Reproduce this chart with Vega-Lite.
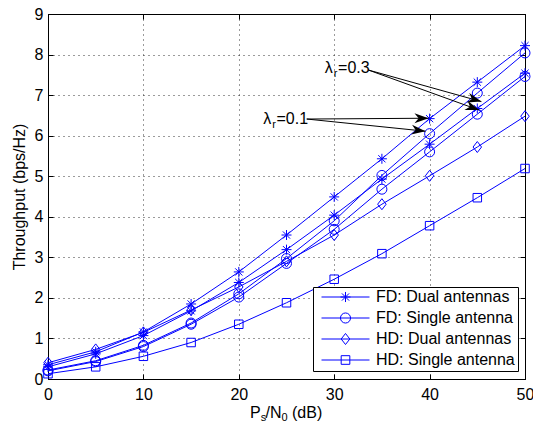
{
  "$schema": "https://vega.github.io/schema/vega-lite/v6.json",
  "width": 477,
  "height": 365,
  "autosize": {"type": "none"},
  "padding": {"left": 48, "top": 14, "right": 8, "bottom": 47},
  "background": "white",
  "config": {
    "font": "Liberation Sans",
    "view": {"stroke": "black", "strokeWidth": 1},
    "axis": {
      "labelFont": "Liberation Sans",
      "labelFontSize": 16,
      "labelColor": "black",
      "labelFlush": false,
      "labelOverlap": false,
      "titleFont": "Liberation Sans",
      "titleFontSize": 16,
      "titleFontWeight": "normal",
      "titleColor": "black",
      "domainColor": "black",
      "tickColor": "black",
      "gridColor": "#222222",
      "gridDash": [1, 4],
      "gridOpacity": 0.9,
      "tickSize": -5
    }
  },
  "datasets": {
    "series": [
      {"x": 0, "y": 0.35, "series": "FDd1", "type": "FD: Dual antennas"},
      {"x": 5, "y": 0.67, "series": "FDd1", "type": "FD: Dual antennas"},
      {"x": 10, "y": 1.16, "series": "FDd1", "type": "FD: Dual antennas"},
      {"x": 15, "y": 1.85, "series": "FDd1", "type": "FD: Dual antennas"},
      {"x": 20, "y": 2.64, "series": "FDd1", "type": "FD: Dual antennas"},
      {"x": 25, "y": 3.55, "series": "FDd1", "type": "FD: Dual antennas"},
      {"x": 30, "y": 4.49, "series": "FDd1", "type": "FD: Dual antennas"},
      {"x": 35, "y": 5.43, "series": "FDd1", "type": "FD: Dual antennas"},
      {"x": 40, "y": 6.42, "series": "FDd1", "type": "FD: Dual antennas"},
      {"x": 45, "y": 7.32, "series": "FDd1", "type": "FD: Dual antennas"},
      {"x": 50, "y": 8.22, "series": "FDd1", "type": "FD: Dual antennas"},
      {"x": 0, "y": 0.22, "series": "FDs1", "type": "FD: Single antenna"},
      {"x": 5, "y": 0.45, "series": "FDs1", "type": "FD: Single antenna"},
      {"x": 10, "y": 0.83, "series": "FDs1", "type": "FD: Single antenna"},
      {"x": 15, "y": 1.38, "series": "FDs1", "type": "FD: Single antenna"},
      {"x": 20, "y": 2.1, "series": "FDs1", "type": "FD: Single antenna"},
      {"x": 25, "y": 2.97, "series": "FDs1", "type": "FD: Single antenna"},
      {"x": 30, "y": 3.9, "series": "FDs1", "type": "FD: Single antenna"},
      {"x": 35, "y": 5.02, "series": "FDs1", "type": "FD: Single antenna"},
      {"x": 40, "y": 6.05, "series": "FDs1", "type": "FD: Single antenna"},
      {"x": 45, "y": 7.05, "series": "FDs1", "type": "FD: Single antenna"},
      {"x": 50, "y": 8.04, "series": "FDs1", "type": "FD: Single antenna"},
      {"x": 0, "y": 0.3, "series": "FDd3", "type": "FD: Dual antennas"},
      {"x": 5, "y": 0.62, "series": "FDd3", "type": "FD: Dual antennas"},
      {"x": 10, "y": 1.07, "series": "FDd3", "type": "FD: Dual antennas"},
      {"x": 15, "y": 1.68, "series": "FDd3", "type": "FD: Dual antennas"},
      {"x": 20, "y": 2.38, "series": "FDd3", "type": "FD: Dual antennas"},
      {"x": 25, "y": 3.19, "series": "FDd3", "type": "FD: Dual antennas"},
      {"x": 30, "y": 4.04, "series": "FDd3", "type": "FD: Dual antennas"},
      {"x": 35, "y": 4.93, "series": "FDd3", "type": "FD: Dual antennas"},
      {"x": 40, "y": 5.79, "series": "FDd3", "type": "FD: Dual antennas"},
      {"x": 45, "y": 6.67, "series": "FDd3", "type": "FD: Dual antennas"},
      {"x": 50, "y": 7.54, "series": "FDd3", "type": "FD: Dual antennas"},
      {"x": 0, "y": 0.2, "series": "FDs3", "type": "FD: Single antenna"},
      {"x": 5, "y": 0.43, "series": "FDs3", "type": "FD: Single antenna"},
      {"x": 10, "y": 0.8, "series": "FDs3", "type": "FD: Single antenna"},
      {"x": 15, "y": 1.35, "series": "FDs3", "type": "FD: Single antenna"},
      {"x": 20, "y": 2.02, "series": "FDs3", "type": "FD: Single antenna"},
      {"x": 25, "y": 2.85, "series": "FDs3", "type": "FD: Single antenna"},
      {"x": 30, "y": 3.69, "series": "FDs3", "type": "FD: Single antenna"},
      {"x": 35, "y": 4.68, "series": "FDs3", "type": "FD: Single antenna"},
      {"x": 40, "y": 5.6, "series": "FDs3", "type": "FD: Single antenna"},
      {"x": 45, "y": 6.53, "series": "FDs3", "type": "FD: Single antenna"},
      {"x": 50, "y": 7.46, "series": "FDs3", "type": "FD: Single antenna"},
      {"x": 0, "y": 0.4, "series": "HDd", "type": "HD: Dual antennas"},
      {"x": 5, "y": 0.73, "series": "HDd", "type": "HD: Dual antennas"},
      {"x": 10, "y": 1.15, "series": "HDd", "type": "HD: Dual antennas"},
      {"x": 15, "y": 1.7, "series": "HDd", "type": "HD: Dual antennas"},
      {"x": 20, "y": 2.27, "series": "HDd", "type": "HD: Dual antennas"},
      {"x": 25, "y": 2.9, "series": "HDd", "type": "HD: Dual antennas"},
      {"x": 30, "y": 3.55, "series": "HDd", "type": "HD: Dual antennas"},
      {"x": 35, "y": 4.31, "series": "HDd", "type": "HD: Dual antennas"},
      {"x": 40, "y": 5.01, "series": "HDd", "type": "HD: Dual antennas"},
      {"x": 45, "y": 5.72, "series": "HDd", "type": "HD: Dual antennas"},
      {"x": 50, "y": 6.48, "series": "HDd", "type": "HD: Dual antennas"},
      {"x": 0, "y": 0.13, "series": "HDs", "type": "HD: Single antenna"},
      {"x": 5, "y": 0.3, "series": "HDs", "type": "HD: Single antenna"},
      {"x": 10, "y": 0.56, "series": "HDs", "type": "HD: Single antenna"},
      {"x": 15, "y": 0.9, "series": "HDs", "type": "HD: Single antenna"},
      {"x": 20, "y": 1.35, "series": "HDs", "type": "HD: Single antenna"},
      {"x": 25, "y": 1.88, "series": "HDs", "type": "HD: Single antenna"},
      {"x": 30, "y": 2.46, "series": "HDs", "type": "HD: Single antenna"},
      {"x": 35, "y": 3.09, "series": "HDs", "type": "HD: Single antenna"},
      {"x": 40, "y": 3.78, "series": "HDs", "type": "HD: Single antenna"},
      {"x": 45, "y": 4.47, "series": "HDs", "type": "HD: Single antenna"},
      {"x": 50, "y": 5.19, "series": "HDs", "type": "HD: Single antenna"}
    ],
    "ann": [
      {"x": 22.55, "y": 6.42, "rest": "=0.1"},
      {"x": 29.0, "y": 7.66, "rest": "=0.3"}
    ],
    "arrows": [
      {"id": "a1", "x": 27.12, "y": 6.41, "x2": 39.88, "y2": 6.43},
      {"id": "a2", "x": 27.12, "y": 6.41, "x2": 39.57, "y2": 6.11},
      {"id": "a3", "x": 33.56, "y": 7.62, "x2": 45.43, "y2": 6.84},
      {"id": "a4", "x": 33.56, "y": 7.62, "x2": 45.2, "y2": 6.63}
    ]
  },
  "resolve": {"axis": {"x": "independent", "y": "independent"}, "scale": {"shape": "independent"}},
  "layer": [
    {
      "data": {"name": "series"},
      "mark": {"type": "line", "color": "#0000ff", "strokeWidth": 1},
      "encoding": {
        "x": {"field": "x", "type": "quantitative", "scale": {"domain": [0, 50], "nice": false},
          "axis": {"values": [0, 10, 20, 30, 40, 50], "title": null, "grid": true, "format": "d", "labelPadding": 12}},
        "y": {"field": "y", "type": "quantitative", "scale": {"domain": [0, 9], "nice": false},
          "axis": {"values": [0, 1, 2, 3, 4, 5, 6, 7, 8, 9], "title": "Throughput (bps/Hz)", "grid": true, "format": "d", "labelPadding": 10,
            "titleX": -29, "titleY": 182.5, "titleAngle": 270, "titleAlign": "center", "titleBaseline": "middle"}},
        "detail": {"field": "series"}
      }
    },
    {
      "data": {"name": "series"},
      "mark": {"type": "point", "opacity": 0},
      "encoding": {
        "x": {"field": "x", "type": "quantitative",
          "axis": {"orient": "top", "values": [0, 10, 20, 30, 40, 50], "labels": false, "title": null, "grid": false}},
        "y": {"field": "y", "type": "quantitative",
          "axis": {"orient": "right", "values": [0, 1, 2, 3, 4, 5, 6, 7, 8, 9], "labels": false, "title": null, "grid": false}}
      }
    },
    {
      "data": {"name": "series"},
      "mark": {"type": "point", "filled": false, "color": "#0000ff", "strokeWidth": 1, "size": 100, "opacity": 1},
      "encoding": {
        "x": {"field": "x", "type": "quantitative", "axis": null},
        "y": {"field": "y", "type": "quantitative", "axis": null},
        "shape": {
          "field": "type",
          "type": "nominal",
          "scale": {
            "domain": ["FD: Dual antennas", "FD: Single antenna", "HD: Dual antennas", "HD: Single antenna"],
            "range": [
              "M0,-1V1M-1,0H1M-0.72,-0.72L0.72,0.72M-0.72,0.72L0.72,-0.72",
              "M-1,0A1,1 0 1,0 1,0A1,1 0 1,0 -1,0",
              "M0,-1.1L0.85,0L0,1.1L-0.85,0Z",
              "M-0.85,-0.85H0.85V0.85H-0.85Z"
            ]
          },
          "legend": null
        }
      }
    },
    {
      "data": {"name": "series"},
      "mark": {"type": "point", "filled": false, "color": "#0000ff", "strokeWidth": 1, "size": 100, "opacity": 0},
      "encoding": {
        "x": {"field": "x", "type": "quantitative", "axis": null},
        "y": {"field": "y", "type": "quantitative", "axis": null},
        "shape": {
          "field": "type",
          "type": "nominal",
          "scale": {
            "domain": ["FD: Dual antennas", "FD: Single antenna", "HD: Dual antennas", "HD: Single antenna"],
            "range": [
              "M-1,0H1M0,-0.21V0.21M-0.21,0H0.21M-0.15,-0.15L0.15,0.15M-0.15,0.15L0.15,-0.15",
              "M-1,0H1M-0.21,0A0.21,0.21 0 1,0 0.21,0A0.21,0.21 0 1,0 -0.21,0",
              "M-1,0H1M0,-0.23L0.18,0L0,0.23L-0.18,0Z",
              "M-1,0H1M-0.18,-0.18H0.18V0.18H-0.18Z"
            ]
          },
          "legend": {
            "title": null,
            "orient": "none",
            "legendX": 265,
            "legendY": 273,
            "padding": 3,
            "symbolOffset": 5,
            "strokeColor": "black",
            "fillColor": "white",
            "labelFont": "Liberation Sans",
            "labelFontSize": 16,
            "labelColor": "black",
            "labelOffset": 6,
            "rowPadding": 5,
            "clipHeight": 14,
            "symbolSize": 2304,
            "symbolStrokeWidth": 1,
            "symbolStrokeColor": "#0000ff",
            "symbolFillColor": "transparent",
            "symbolOpacity": 1
          }
        }
      }
    },
    {
      "data": {"name": "arrows"},
      "mark": {"type": "rule", "color": "black", "strokeWidth": 1},
      "encoding": {
        "x": {"field": "x", "type": "quantitative", "axis": null},
        "y": {"field": "y", "type": "quantitative", "axis": null},
        "x2": {"field": "x2"},
        "y2": {"field": "y2"}
      }
    },
    {
      "data": {"name": "arrows"},
      "transform": [{"filter": "datum.id === 'a1'"}],
      "mark": {"type": "point", "shape": "M0,0L-2,-0.7L-1.4,0L-2,0.7Z", "filled": true, "color": "black", "size": 196, "opacity": 1, "angle": 0},
      "encoding": {"x": {"field": "x2", "type": "quantitative", "axis": null}, "y": {"field": "y2", "type": "quantitative", "axis": null}}
    },
    {
      "data": {"name": "arrows"},
      "transform": [{"filter": "datum.id === 'a2'"}],
      "mark": {"type": "point", "shape": "M0,0L-2,-0.7L-1.4,0L-2,0.7Z", "filled": true, "color": "black", "size": 196, "opacity": 1, "angle": 6},
      "encoding": {"x": {"field": "x2", "type": "quantitative", "axis": null}, "y": {"field": "y2", "type": "quantitative", "axis": null}}
    },
    {
      "data": {"name": "arrows"},
      "transform": [{"filter": "datum.id === 'a3'"}],
      "mark": {"type": "point", "shape": "M0,0L-2,-0.7L-1.4,0L-2,0.7Z", "filled": true, "color": "black", "size": 196, "opacity": 1, "angle": 15.6},
      "encoding": {"x": {"field": "x2", "type": "quantitative", "axis": null}, "y": {"field": "y2", "type": "quantitative", "axis": null}}
    },
    {
      "data": {"name": "arrows"},
      "transform": [{"filter": "datum.id === 'a4'"}],
      "mark": {"type": "point", "shape": "M0,0L-2,-0.7L-1.4,0L-2,0.7Z", "filled": true, "color": "black", "size": 196, "opacity": 1, "angle": 19.7},
      "encoding": {"x": {"field": "x2", "type": "quantitative", "axis": null}, "y": {"field": "y2", "type": "quantitative", "axis": null}}
    },
    {
      "data": {"name": "ann"},
      "mark": {"type": "text", "text": "λ", "align": "left", "baseline": "middle", "fontSize": 16, "font": "Liberation Sans", "color": "black"},
      "encoding": {"x": {"field": "x", "type": "quantitative", "axis": null}, "y": {"field": "y", "type": "quantitative", "axis": null}}
    },
    {
      "data": {"name": "ann"},
      "mark": {"type": "text", "text": "r", "align": "left", "baseline": "middle", "fontSize": 11, "font": "Liberation Sans", "color": "black", "dx": 9, "dy": 6},
      "encoding": {"x": {"field": "x", "type": "quantitative", "axis": null}, "y": {"field": "y", "type": "quantitative", "axis": null}}
    },
    {
      "data": {"name": "ann"},
      "mark": {"type": "text", "align": "left", "baseline": "middle", "fontSize": 16, "font": "Liberation Sans", "color": "black", "dx": 13.4},
      "encoding": {"x": {"field": "x", "type": "quantitative", "axis": null}, "y": {"field": "y", "type": "quantitative", "axis": null}, "text": {"field": "rest"}}
    },
    {
      "data": {"values": [{}]},
      "mark": {"type": "text", "text": "P", "align": "left", "baseline": "middle", "fontSize": 16, "font": "Liberation Sans", "color": "black", "dx": -36.5, "dy": 34},
      "encoding": {"x": {"datum": 25, "axis": null}, "y": {"datum": 0, "axis": null}}
    },
    {
      "data": {"values": [{}]},
      "mark": {"type": "text", "text": "s", "align": "left", "baseline": "middle", "fontSize": 11, "font": "Liberation Sans", "color": "black", "dx": -25.8, "dy": 39},
      "encoding": {"x": {"datum": 25, "axis": null}, "y": {"datum": 0, "axis": null}}
    },
    {
      "data": {"values": [{}]},
      "mark": {"type": "text", "text": "/N", "align": "left", "baseline": "middle", "fontSize": 16, "font": "Liberation Sans", "color": "black", "dx": -21, "dy": 34},
      "encoding": {"x": {"datum": 25, "axis": null}, "y": {"datum": 0, "axis": null}}
    },
    {
      "data": {"values": [{}]},
      "mark": {"type": "text", "text": "0", "align": "left", "baseline": "middle", "fontSize": 11, "font": "Liberation Sans", "color": "black", "dx": -5, "dy": 39},
      "encoding": {"x": {"datum": 25, "axis": null}, "y": {"datum": 0, "axis": null}}
    },
    {
      "data": {"values": [{}]},
      "mark": {"type": "text", "text": "(dB)", "align": "left", "baseline": "middle", "fontSize": 16, "font": "Liberation Sans", "color": "black", "dx": 5.5, "dy": 34},
      "encoding": {"x": {"datum": 25, "axis": null}, "y": {"datum": 0, "axis": null}}
    }
  ]
}
